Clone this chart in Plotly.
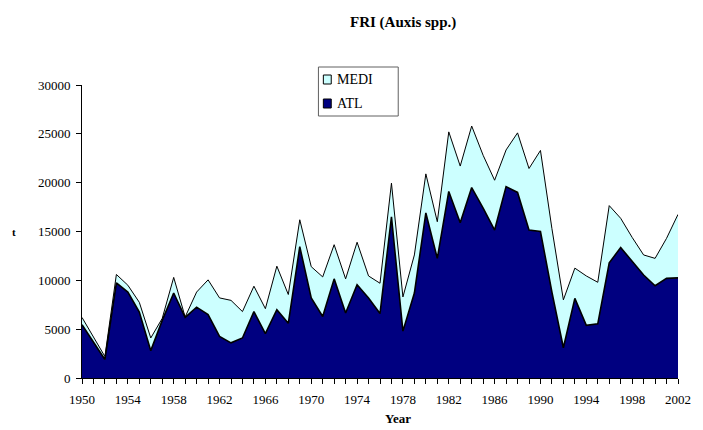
import plotly.graph_objects as go

years = list(range(1950, 2003))

# Catch in tonnes, Atlantic stock
atl = [5450, 3650, 1900, 9750, 8800, 6750, 2800, 5900, 8700, 6200,
       7250, 6500, 4250, 3600, 4100, 6800, 4550, 7000, 5600, 13450,
       8200, 6300, 10150, 6650, 9550, 8200, 6600, 16500, 4800, 8700,
       16900, 12250, 19100, 15900, 19500, 17400, 15150, 19600, 19000, 15150,
       15000, 8800, 3100, 8150, 5400, 5550, 11800, 13350, 11900, 10550,
       9450, 10200, 10250]

# Catch in tonnes, Mediterranean stock
medi = [750, 550, 300, 850, 700, 1000, 1300, 200, 1600, 50,
        1550, 3550, 3950, 4350, 2700, 2600, 2550, 4450, 2950, 2750,
        3200, 4050, 3500, 3500, 4350, 2250, 3100, 3450, 3500, 3900,
        4000, 3750, 6100, 5800, 6300, 5400, 5100, 3750, 6100, 6300,
        8300, 6500, 4900, 3100, 5050, 4250, 5850, 3000, 2500, 2050,
        2800, 4100, 6500]

xticks = list(range(1950, 2003, 4))
yticks = list(range(0, 30001, 5000))

SERIF = "Liberation Serif, Times New Roman, serif"
NAVY = "#000080"
CYAN = "#CCFFFF"

W, H = 703, 430
ML, MR, MT, MB = 82, 16, 85, 52
PW, PH = W - ML - MR, H - MT - MB


def px(x):
    return (x - ML) / PW


def py(y):
    return (H - MB - y) / PH


fig = go.Figure()

fig.add_trace(go.Scatter(
    x=years, y=atl, name="ATL", stackgroup="catch", mode="lines",
    line=dict(color="black", width=1.6), fillcolor=NAVY, showlegend=False,
))
fig.add_trace(go.Scatter(
    x=years, y=medi, name="MEDI", stackgroup="catch", mode="lines",
    line=dict(color="black", width=1), fillcolor=CYAN, showlegend=False,
))

# Legend box with square keys
shapes = [
    dict(type="rect", xref="paper", yref="paper",
         x0=px(322), x1=px(403), y0=py(116), y1=py(67),
         line=dict(color="#606060", width=1), fillcolor="white", layer="above"),
]
annotations = []
for label, color, yc in [("MEDI", CYAN, 79.5), ("ATL", NAVY, 103.5)]:
    shapes.append(dict(type="rect", xref="paper", yref="paper",
                       x0=px(327), x1=px(335), y0=py(yc + 4.5), y1=py(yc - 4.5),
                       line=dict(color="black", width=1), fillcolor=color, layer="above"))
    annotations.append(dict(text=label, xref="paper", yref="paper",
                            x=px(339), y=py(yc), xanchor="left", yanchor="middle",
                            showarrow=False, font=dict(family=SERIF, size=14, color="black")))

annotations += [
    dict(text="<b>FRI (Auxis spp.)</b>", xref="paper", yref="paper",
         x=px(408), y=py(23), xanchor="center", yanchor="middle",
         showarrow=False, font=dict(family=SERIF, size=15)),
    dict(text="<b>t</b>", xref="paper", yref="paper",
         x=px(13), y=py(232), xanchor="center", yanchor="middle",
         showarrow=False, font=dict(family=SERIF, size=11)),
    dict(text="<b>Year</b>", xref="paper", yref="paper",
         x=px(403), y=py(418), xanchor="center", yanchor="middle",
         showarrow=False, font=dict(family=SERIF, size=13)),
]

fig.update_layout(
    width=W, height=H,
    margin=dict(l=ML, r=MR, t=MT, b=MB),
    paper_bgcolor="white", plot_bgcolor="white",
    font=dict(family=SERIF, size=13, color="black"),
    showlegend=False,
    shapes=shapes,
    annotations=annotations,
)

fig.update_xaxes(
    range=[1950, 2002], tickvals=xticks, ticktext=[str(v) for v in xticks],
    ticks="outside", ticklen=5, tickwidth=1, tickcolor="black",
    minor=dict(dtick=1, tick0=1950, ticks="outside", ticklen=5, tickwidth=1, tickcolor="black"),
    showline=True, linecolor="black", linewidth=1,
    showgrid=False, zeroline=False, ticklabelstandoff=4,
    tickfont=dict(family=SERIF, size=13, color="black"),
)
fig.update_yaxes(
    range=[0, 30000], tickvals=yticks, ticktext=[str(v) for v in yticks],
    ticks="outside", ticklen=5, tickwidth=1, tickcolor="black",
    showline=True, linecolor="black", linewidth=1,
    showgrid=False, zeroline=False, ticklabelstandoff=3,
    tickfont=dict(family=SERIF, size=13, color="black"),
)

fig.write_html("out.html")
